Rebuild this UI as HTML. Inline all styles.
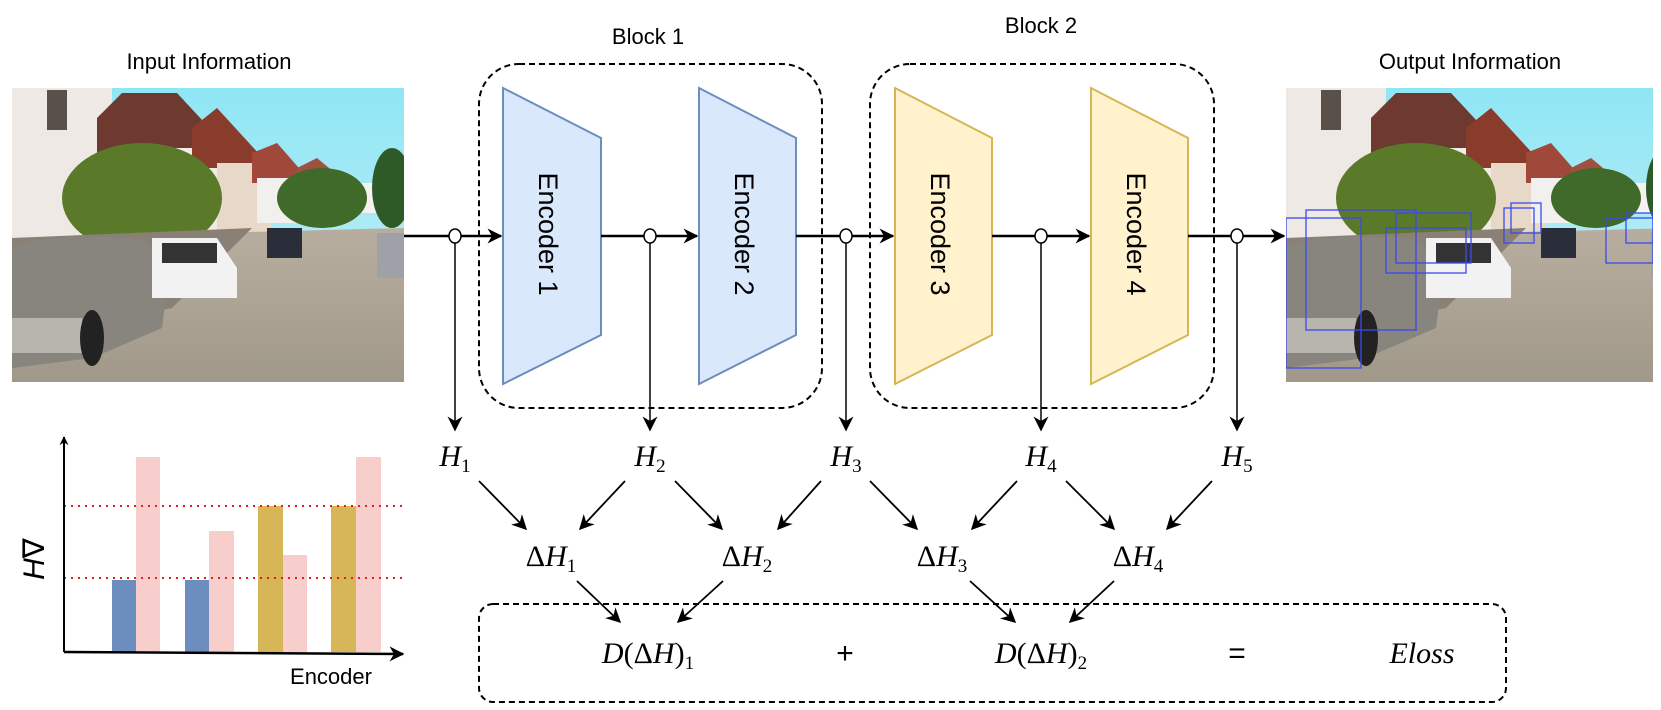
<!DOCTYPE html>
<html><head><meta charset="utf-8"><style>
html,body{margin:0;padding:0;background:#fff;}
svg{display:block}
text{font-family:"Liberation Sans",sans-serif;}
.m{font-family:"Liberation Serif",serif;font-style:italic;}
</style></head><body>
<svg width="1661" height="710" viewBox="0 0 1661 710" xmlns="http://www.w3.org/2000/svg">
<defs>
<marker id="ah" viewBox="0 0 10 10" refX="9" refY="5" markerWidth="9" markerHeight="9" orient="auto" markerUnits="userSpaceOnUse"><path d="M0,0 L10,5 L0,10 L3,5 z" fill="#000"/></marker>
<marker id="ab" viewBox="0 0 10 10" refX="9" refY="5" markerWidth="15" markerHeight="15" orient="auto" markerUnits="userSpaceOnUse"><path d="M0,0 L10,5 L0,10 L3,5 z" fill="#000"/></marker>
<linearGradient id="sky" x1="0" y1="0" x2="0" y2="1"><stop offset="0" stop-color="#8fe6f5"/><stop offset="1" stop-color="#cfeff5"/></linearGradient>
<linearGradient id="road" x1="0" y1="0" x2="0" y2="1"><stop offset="0" stop-color="#b8aea0"/><stop offset="1" stop-color="#a09888"/></linearGradient>
<g id="photo">
<rect x="0" y="0" width="392" height="294" fill="url(#sky)"/>
<rect x="0" y="0" width="100" height="160" fill="#eee9e4"/>
<rect x="35" y="2" width="20" height="40" fill="#5a504a"/>
<polygon points="85,30 110,5 165,5 230,75 85,75" fill="#6e3a30"/>
<rect x="100" y="60" width="120" height="90" fill="#f0ece6"/>
<polygon points="180,40 205,20 260,80 180,80" fill="#8a3c2c"/>
<rect x="205" y="75" width="55" height="70" fill="#e8d8c8"/>
<polygon points="240,65 265,55 300,95 240,95" fill="#a0483a"/>
<rect x="245" y="90" width="50" height="45" fill="#f2f0ee"/>
<polygon points="285,80 305,70 335,95 285,95" fill="#a05040"/>
<rect x="340" y="95" width="50" height="30" fill="#f5f2f0"/>
<ellipse cx="130" cy="110" rx="80" ry="55" fill="#5a7a2a"/>
<ellipse cx="310" cy="110" rx="45" ry="30" fill="#3f6a2a"/>
<ellipse cx="380" cy="100" rx="20" ry="40" fill="#2e5a28"/>
<polygon points="0,150 392,140 392,294 0,294" fill="url(#road)"/>
<polygon points="0,150 240,140 160,220 0,250" fill="#8a8076"/>
<path d="M0,160 Q30,145 120,150 Q150,155 155,200 L150,240 L80,270 L0,280 z" fill="#88847e"/>
<rect x="0" y="230" width="70" height="35" fill="#b8b4ae"/>
<ellipse cx="80" cy="250" rx="12" ry="28" fill="#222"/>
<path d="M140,150 L205,150 L225,180 L225,210 L140,210 z" fill="#f2f2f2"/>
<rect x="150" y="155" width="55" height="20" fill="#333"/>
<rect x="255" y="140" width="35" height="30" fill="#2a2e3a"/>
<rect x="365" y="145" width="27" height="45" fill="#9ea2a8"/>
</g>
</defs>

<text x="209" y="69" font-size="22" text-anchor="middle">Input Information</text>
<text x="648" y="44" font-size="22" text-anchor="middle">Block 1</text>
<text x="1041" y="33" font-size="22" text-anchor="middle">Block 2</text>
<text x="1470" y="69" font-size="22" text-anchor="middle">Output Information</text>

<svg x="12" y="88" width="392" height="294" viewBox="0 0 392 294"><use href="#photo"/></svg>
<svg x="1286" y="88" width="367" height="294" viewBox="0 0 367 294"><use href="#photo"/>
<g fill="none" stroke="#3a4af0" stroke-width="1.3">
<rect x="0" y="130" width="75" height="150"/><rect x="20" y="122" width="110" height="120"/>
<rect x="110" y="125" width="75" height="50"/><rect x="100" y="140" width="80" height="45"/>
<rect x="218" y="120" width="30" height="35"/><rect x="225" y="115" width="30" height="30"/>
<rect x="320" y="130" width="47" height="45"/><rect x="340" y="125" width="27" height="30"/>
</g></svg>

<rect x="479" y="64" width="343" height="344" rx="40" fill="none" stroke="#000" stroke-width="2" stroke-dasharray="6,4"/>
<rect x="870" y="64" width="344" height="344" rx="40" fill="none" stroke="#000" stroke-width="2" stroke-dasharray="6,4"/>

<polygon points="503,88 601,138 601,335 503,384" fill="#dae8fc" stroke="#6c8ebf" stroke-width="2"/>
<polygon points="699,88 796,138 796,335 699,384" fill="#dae8fc" stroke="#6c8ebf" stroke-width="2"/>
<polygon points="895,88 992,138 992,335 895,384" fill="#fff2cc" stroke="#d6b656" stroke-width="2"/>
<polygon points="1091,88 1188,138 1188,335 1091,384" fill="#fff2cc" stroke="#d6b656" stroke-width="2"/>
<g font-size="27" fill="#000">
<text transform="translate(548,234) rotate(90)" text-anchor="middle" dy="9">Encoder 1</text>
<text transform="translate(744,234) rotate(90)" text-anchor="middle" dy="9">Encoder 2</text>
<text transform="translate(940,234) rotate(90)" text-anchor="middle" dy="9">Encoder 3</text>
<text transform="translate(1136,234) rotate(90)" text-anchor="middle" dy="9">Encoder 4</text>
</g>

<g stroke="#000" stroke-width="2.5" fill="none">
<line x1="404" y1="236" x2="501" y2="236" marker-end="url(#ab)"/>
<line x1="601" y1="236" x2="697" y2="236" marker-end="url(#ab)"/>
<line x1="796" y1="236" x2="893" y2="236" marker-end="url(#ab)"/>
<line x1="992" y1="236" x2="1089" y2="236" marker-end="url(#ab)"/>
<line x1="1188" y1="236" x2="1284" y2="236" marker-end="url(#ab)"/>
</g>
<g stroke="#000" stroke-width="1.5" fill="#fff">
<line x1="455" y1="243" x2="455" y2="430" marker-end="url(#ab)"/>
<line x1="650" y1="243" x2="650" y2="430" marker-end="url(#ab)"/>
<line x1="846" y1="243" x2="846" y2="430" marker-end="url(#ab)"/>
<line x1="1041" y1="243" x2="1041" y2="430" marker-end="url(#ab)"/>
<line x1="1237" y1="243" x2="1237" y2="430" marker-end="url(#ab)"/>
<ellipse cx="455" cy="236" rx="6" ry="7"/>
<ellipse cx="650" cy="236" rx="6" ry="7"/>
<ellipse cx="846" cy="236" rx="6" ry="7"/>
<ellipse cx="1041" cy="236" rx="6" ry="7"/>
<ellipse cx="1237" cy="236" rx="6" ry="7"/>
</g>

<g font-size="30" text-anchor="middle">
<text x="455" y="466" class="m">H<tspan font-size="19" font-style="normal" dy="6">1</tspan></text>
<text x="650" y="466" class="m">H<tspan font-size="19" font-style="normal" dy="6">2</tspan></text>
<text x="846" y="466" class="m">H<tspan font-size="19" font-style="normal" dy="6">3</tspan></text>
<text x="1041" y="466" class="m">H<tspan font-size="19" font-style="normal" dy="6">4</tspan></text>
<text x="1237" y="466" class="m">H<tspan font-size="19" font-style="normal" dy="6">5</tspan></text>
<text x="551" y="566" class="m"><tspan font-style="normal">Δ</tspan>H<tspan font-size="19" font-style="normal" dy="6">1</tspan></text>
<text x="747" y="566" class="m"><tspan font-style="normal">Δ</tspan>H<tspan font-size="19" font-style="normal" dy="6">2</tspan></text>
<text x="942" y="566" class="m"><tspan font-style="normal">Δ</tspan>H<tspan font-size="19" font-style="normal" dy="6">3</tspan></text>
<text x="1138" y="566" class="m"><tspan font-style="normal">Δ</tspan>H<tspan font-size="19" font-style="normal" dy="6">4</tspan></text>
</g>

<g stroke="#000" stroke-width="1.8" fill="none">
<line x1="479" y1="481" x2="526" y2="529" marker-end="url(#ab)"/>
<line x1="625" y1="481" x2="580" y2="529" marker-end="url(#ab)"/>
<line x1="675" y1="481" x2="722" y2="529" marker-end="url(#ab)"/>
<line x1="821" y1="481" x2="778" y2="529" marker-end="url(#ab)"/>
<line x1="870" y1="481" x2="917" y2="529" marker-end="url(#ab)"/>
<line x1="1017" y1="481" x2="972" y2="529" marker-end="url(#ab)"/>
<line x1="1066" y1="481" x2="1114" y2="529" marker-end="url(#ab)"/>
<line x1="1212" y1="481" x2="1167" y2="529" marker-end="url(#ab)"/>
<line x1="577" y1="581" x2="620" y2="622" marker-end="url(#ab)"/>
<line x1="723" y1="581" x2="678" y2="622" marker-end="url(#ab)"/>
<line x1="970" y1="581" x2="1015" y2="622" marker-end="url(#ab)"/>
<line x1="1114" y1="581" x2="1070" y2="622" marker-end="url(#ab)"/>
</g>

<rect x="479" y="604" width="1027" height="98" rx="14" fill="none" stroke="#000" stroke-width="2" stroke-dasharray="6,4"/>
<g font-size="30" text-anchor="middle">
<text x="648" y="663" class="m">D<tspan font-style="normal">(Δ</tspan>H<tspan font-style="normal">)</tspan><tspan font-size="19" font-style="normal" dy="6">1</tspan></text>
<text x="1041" y="663" class="m">D<tspan font-style="normal">(Δ</tspan>H<tspan font-style="normal">)</tspan><tspan font-size="19" font-style="normal" dy="6">2</tspan></text>
<text x="845" y="663" font-family="Liberation Serif,serif">+</text>
<text x="1237" y="663" font-family="Liberation Serif,serif">=</text>
<text x="1422" y="663" class="m">Eloss</text>
</g>

<rect x="112" y="580" width="24" height="72" fill="#6c8ebf"/>
<rect x="136" y="457" width="24" height="195" fill="#f8cecc"/>
<rect x="185" y="580" width="24" height="72" fill="#6c8ebf"/>
<rect x="209" y="531" width="25" height="121" fill="#f8cecc"/>
<rect x="258" y="506" width="25" height="146" fill="#d6b656"/>
<rect x="283" y="555" width="24" height="97" fill="#f8cecc"/>
<rect x="331" y="506" width="25" height="146" fill="#d6b656"/>
<rect x="356" y="457" width="25" height="195" fill="#f8cecc"/>
<line x1="64" y1="506" x2="403" y2="506" stroke="#e02020" stroke-width="2" stroke-dasharray="2,5"/>
<line x1="64" y1="578" x2="403" y2="578" stroke="#e02020" stroke-width="2" stroke-dasharray="2,5"/>
<line x1="64" y1="652" x2="64" y2="437" stroke="#000" stroke-width="2" marker-end="url(#ah)"/>
<line x1="64" y1="652" x2="403" y2="654" stroke="#000" stroke-width="2.5" marker-end="url(#ab)"/>
<text x="331" y="684" font-size="22" text-anchor="middle">Encoder</text>
<text transform="translate(44,559) rotate(-90)" font-size="30" text-anchor="middle" font-family="Liberation Serif,serif"><tspan font-style="italic">H</tspan>∇</text>
</svg>
</body></html>
